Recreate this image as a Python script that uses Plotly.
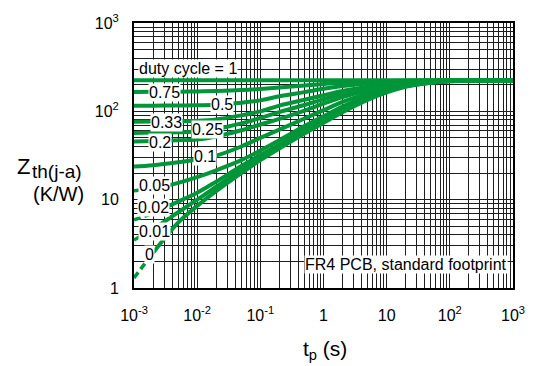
import plotly.graph_objects as go

# Pulse duration (s)
tp_s = [1e-3, 2e-3, 5e-3, 1e-2, 2e-2, 5e-2, 0.1, 0.2, 0.5, 1, 2, 5, 10, 20, 50, 100, 1000]

# Transient thermal impedance Zth(j-a) in K/W for each duty cycle
zth_d100 = [225, 225, 225, 225, 225, 225, 225, 225, 225, 225, 225, 225, 225, 225, 225, 225, 225]
zth_d075 = [166, 166.5, 167, 168, 170, 174, 179, 186, 196, 204, 210, 216, 219, 222, 224, 225, 225]
zth_d050 = [116, 116, 116.5, 117, 119, 125, 133, 148, 165, 180, 193, 206, 214, 219, 223, 225, 225]
zth_d033 = [76, 76.5, 77, 78, 81, 90, 100, 116, 135, 152, 170, 190, 203, 212, 220, 224, 225]
zth_d025 = [57, 57.5, 58, 59, 63, 73, 84, 98, 118, 137, 158, 182, 198, 210, 219, 223, 225]
zth_d020 = [45.6, 46, 47, 48, 52, 61, 71, 82, 102, 122, 145, 173, 193, 207, 218, 223, 225]
zth_d010 = [23.7, 24.5, 26.5, 28.5, 31.5, 40, 50, 62, 83, 103, 128, 160, 185, 202, 216, 222, 225]
zth_d005 = [12.6, 13.3, 15.5, 18, 21.5, 28, 36, 47, 68, 88, 113, 150, 178, 198, 214, 221, 225]
zth_d002 = [5.9, 7, 9.5, 12, 16, 24, 32, 42, 62, 82, 106, 143, 172, 195, 212, 220, 225]
zth_d001 = [3.5, 4.6, 7.2, 10, 14, 22, 30, 40, 59, 78, 102, 139, 168, 192, 211, 219, 225]
zth_d000 = [1.3, 2.5, 5.5, 8.5, 12.5, 20, 28, 38, 56, 74, 98, 135, 164, 190, 210, 219, 225]

curve_labels = ["duty cycle = 1", "0.75", "0.5", "0.33", "0.25", "0.2", "0.1", "0.05", "0.02", "0.01", "0"]
curves = [zth_d100, zth_d075, zth_d050, zth_d033, zth_d025, zth_d020,
          zth_d010, zth_d005, zth_d002, zth_d001, zth_d000]
# Curves whose first (short-pulse) segment is drawn dashed
dashed_start = ["0.05", "0.02", "0.01", "0"]

# Label anchor positions (log10 tp, log10 Zth)
label_pos = {
    "duty cycle = 1": (-2.145, 2.484),
    "0.75": (-2.525, 2.209),
    "0.5": (-1.607, 2.077),
    "0.33": (-2.478, 1.879),
    "0.25": (-1.844, 1.791),
    "0.2": (-2.588, 1.648),
    "0.1": (-1.876, 1.484),
    "0.05": (-2.683, 1.165),
    "0.02": (-2.699, 0.912),
    "0.01": (-2.668, 0.637),
    "0": (-2.747, 0.374),
}

x_tickvals = [1e-3, 1e-2, 1e-1, 1, 10, 100, 1000]
x_ticktext = ["10<sup>-3</sup>", "10<sup>-2</sup>", "10<sup>-1</sup>", "1", "10", "10<sup>2</sup>", "10<sup>3</sup>"]
y_tickvals = [1, 10, 100, 1000]
y_ticktext = ["1", "10", "10<sup>2</sup>", "10<sup>3</sup>"]

GREEN = "#009639"
FONT = "Liberation Sans, Arial, sans-serif"
W, H = 538, 366
ML, MR, MT, MB = 134, 25, 15, 78

fig = go.Figure()
for name, z in zip(curve_labels, curves):
    if name in dashed_start:
        fig.add_trace(go.Scatter(x=tp_s[:2], y=z[:2], mode="lines",
                                 line=dict(color=GREEN, width=3.5, dash="7px,4px"),
                                 hoverinfo="skip"))
        fig.add_trace(go.Scatter(x=tp_s[1:], y=z[1:], mode="lines",
                                 line=dict(color=GREEN, width=4, shape="spline", smoothing=1),
                                 name=name))
    else:
        fig.add_trace(go.Scatter(x=tp_s, y=z, mode="lines",
                                 line=dict(color=GREEN, width=4, shape="spline", smoothing=1),
                                 name=name))

annotations = []
for name in curve_labels:
    lx, ly = label_pos[name]
    annotations.append(dict(x=lx, y=ly, xref="x", yref="y", text=name, showarrow=False,
                            bgcolor="white", borderpad=0,
                            font=dict(family=FONT, size=16, color="black")))

annotations.append(dict(x=1.306, y=0.264, xref="x", yref="y",
                        text="FR4 PCB, standard footprint", showarrow=False,
                        bgcolor="white", borderpad=0,
                        font=dict(family=FONT, size=16, color="black")))

# Axis titles, placed in pixel terms relative to the plotting area
pw, ph = W - ML - MR, H - MT - MB
def px(xp):
    return (xp - ML) / pw
def py(yp):
    return (H - MB - yp) / ph

annotations.append(dict(x=px(325), y=py(352), xref="paper", yref="paper",
                        xanchor="center", yanchor="middle",
                        text="t<sub>p</sub> (s)", showarrow=False,
                        font=dict(family=FONT, size=21, color="black")))
annotations.append(dict(x=px(15), y=py(163), xref="paper", yref="paper",
                        xanchor="left", yanchor="middle",
                        text="Z", showarrow=False,
                        font=dict(family=FONT, size=22, color="black")))
annotations.append(dict(x=px(30), y=py(168), xref="paper", yref="paper",
                        xanchor="left", yanchor="middle",
                        text="th(j-a)", showarrow=False,
                        font=dict(family=FONT, size=19, color="black")))
annotations.append(dict(x=px(58), y=py(191), xref="paper", yref="paper",
                        xanchor="center", yanchor="middle",
                        text="(K/W)", showarrow=False,
                        font=dict(family=FONT, size=20, color="black")))

grid = "#1e1e1e"
fig.update_layout(
    width=W, height=H,
    margin=dict(l=ML, r=MR, t=MT, b=MB, pad=0),
    paper_bgcolor="white", plot_bgcolor="white",
    showlegend=False,
    annotations=annotations,
    font=dict(family=FONT, size=16, color="black"),
    xaxis=dict(type="log", range=[-3, 3], tickvals=x_tickvals, ticktext=x_ticktext,
               showgrid=True, gridcolor=grid, gridwidth=1,
               minor=dict(showgrid=True, gridcolor=grid, gridwidth=1, dtick="D1"),
               showline=True, linecolor="black", linewidth=2, mirror=True,
               ticks="", ticklabelstandoff=12, zeroline=False,
               tickfont=dict(family=FONT, size=16, color="black")),
    yaxis=dict(type="log", range=[0, 3], tickvals=y_tickvals, ticktext=y_ticktext,
               showgrid=True, gridcolor=grid, gridwidth=1,
               minor=dict(showgrid=True, gridcolor=grid, gridwidth=1, dtick="D1"),
               showline=True, linecolor="black", linewidth=2, mirror=True,
               ticks="", ticklabelstandoff=10, zeroline=False,
               tickfont=dict(family=FONT, size=16, color="black")),
)

fig.write_html("out.html")
